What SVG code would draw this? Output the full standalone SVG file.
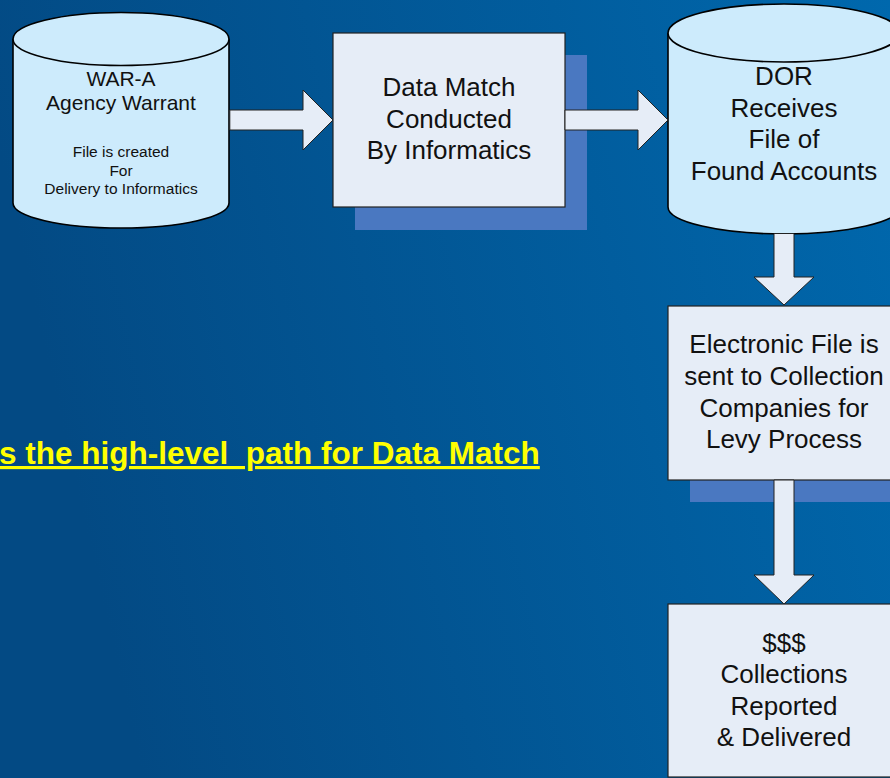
<svg xmlns="http://www.w3.org/2000/svg" width="890" height="778" viewBox="0 0 890 778">
<style>
.cyl{fill:#cdebfc;stroke:#000;stroke-width:1.6}
.box{fill:#e6edf7;stroke:#222;stroke-width:1.2}
.shadow{fill:#4a78c1}
.arrow{fill:#e6edf7;stroke:#222;stroke-width:1}
.t{font-family:"Liberation Sans",Arial,sans-serif;fill:#111;text-anchor:middle}
.big{font-size:26px}
.med{font-size:21px}
.sm{font-size:15.5px}
.title{font-family:"Liberation Sans",Arial,sans-serif;font-weight:bold;font-size:31.5px;fill:#ffff00;text-decoration:underline}
</style>
<defs>
<linearGradient id="bg" x1="0" y1="0.2" x2="1" y2="0">
<stop offset="0" stop-color="#034a84"/>
<stop offset="1" stop-color="#0068ad"/>
</linearGradient>
</defs>
<rect x="0" y="0" width="890" height="778" fill="url(#bg)"/>

<g id="node-war-a">
<path class="cyl" d="M13,39 L13,203 A108,25 0 0 0 229,203 L229,39"/>
<ellipse class="cyl" cx="121" cy="39" rx="108" ry="26.5"/>
<text class="t med" x="121" y="86">WAR-A</text>
<text class="t med" x="121" y="110">Agency Warrant</text>
<text class="t sm" x="121" y="157">File is created</text>
<text class="t sm" x="121" y="176">For</text>
<text class="t sm" x="121" y="194">Delivery to Informatics</text>
</g>

<g id="node-data-match">
<rect class="shadow" x="355" y="55" width="232" height="175"/>
<rect class="box" x="333" y="33" width="232" height="174"/>
<text class="t big" x="449" y="96">Data Match</text>
<text class="t big" x="449" y="128">Conducted</text>
<text class="t big" x="449" y="159">By Informatics</text>
</g>

<g id="node-dor">
<path class="cyl" d="M668,33 L668,207 A116,27 0 0 0 900,207 L900,33"/>
<ellipse class="cyl" cx="784" cy="33" rx="116" ry="29"/>
<text class="t big" x="784" y="85">DOR</text>
<text class="t big" x="784" y="117">Receives</text>
<text class="t big" x="784" y="148">File of</text>
<text class="t big" x="784" y="180">Found Accounts</text>
</g>

<g id="node-electronic">
<rect class="shadow" x="690" y="328" width="232" height="174"/>
<rect class="box" x="668" y="306" width="232" height="174"/>
<text class="t big" x="784" y="353">Electronic File is</text>
<text class="t big" x="784" y="385">sent to Collection</text>
<text class="t big" x="784" y="417">Companies for</text>
<text class="t big" x="784" y="448">Levy Process</text>
</g>

<g id="node-collections">
<rect class="box" x="668" y="604" width="232" height="173"/>
<text class="t big" x="784" y="652">$$$</text>
<text class="t big" x="784" y="683">Collections</text>
<text class="t big" x="784" y="715">Reported</text>
<text class="t big" x="784" y="746">&amp; Delivered</text>
</g>

<g id="connectors">
<polygon class="arrow" points="229.8,110 303,110 303,90 333,120 303,150 303,130 229.8,130"/>
<polygon class="arrow" points="565,110 638,110 638,90 668,120 638,150 638,130 565,130"/>
<polygon class="arrow" points="774,233.5 794,233.5 794,277 814,277 784,305 754,277 774,277"/>
<polygon class="arrow" points="774,480 794,480 794,575 814,575 784,604 754,575 774,575"/>
</g>

<g id="caption">
<text class="title" x="-1" y="464" xml:space="preserve">s the high-level  path for Data Match</text>
</g>
</svg>
